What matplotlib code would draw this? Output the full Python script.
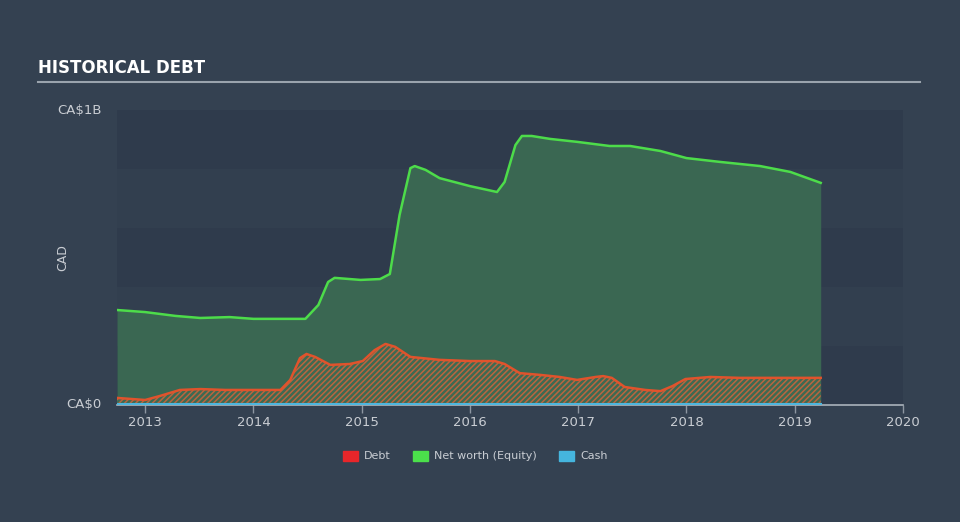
import matplotlib
matplotlib.use("Agg")
import matplotlib.pyplot as plt
from matplotlib.patches import Patch
from matplotlib.lines import Line2D

# === DATA ===
eq_years = [2012.74, 2013.0, 2013.28, 2013.51, 2013.78, 2014.0, 2014.25, 2014.48,
            2014.6, 2014.69, 2014.75, 2014.99, 2015.17, 2015.26, 2015.35, 2015.45,
            2015.49, 2015.59, 2015.72, 2016.0, 2016.25, 2016.32, 2016.42, 2016.48,
            2016.57, 2016.74, 2016.99, 2017.29, 2017.48, 2017.76, 2018.0, 2018.31,
            2018.68, 2018.96, 2019.24]
equity = [0.322, 0.315, 0.302, 0.295, 0.298, 0.292, 0.292, 0.292,
          0.339, 0.417, 0.431, 0.424, 0.427, 0.444, 0.644, 0.803,
          0.810, 0.797, 0.769, 0.742, 0.722, 0.756, 0.881, 0.912,
          0.912, 0.902, 0.892, 0.878, 0.878, 0.861, 0.837, 0.824,
          0.810, 0.790, 0.753]

debt_years = [2012.74, 2013.0, 2013.14, 2013.32, 2013.51, 2013.74, 2014.0, 2014.25,
              2014.34, 2014.43, 2014.49, 2014.57, 2014.71, 2014.89, 2015.01, 2015.12,
              2015.22, 2015.31, 2015.45, 2015.72, 2016.0, 2016.23, 2016.32, 2016.46,
              2016.65, 2016.83, 2016.99, 2017.16, 2017.23, 2017.31, 2017.43, 2017.62,
              2017.76, 2017.87, 2017.99, 2018.22, 2018.49, 2018.86, 2019.24]
debt = [0.024, 0.017, 0.031, 0.051, 0.054, 0.051, 0.051, 0.051,
        0.085, 0.159, 0.173, 0.163, 0.136, 0.139, 0.149, 0.186,
        0.207, 0.197, 0.163, 0.153, 0.149, 0.149, 0.139, 0.108,
        0.102, 0.095, 0.085, 0.095, 0.098, 0.092, 0.061, 0.051,
        0.047, 0.064, 0.088, 0.095, 0.092, 0.092, 0.092]

cash_years = [2012.74, 2019.24]
cash = [0.003, 0.003]

x_ticks = [2013, 2014, 2015, 2016, 2017, 2018, 2019, 2020]
y_ticks = [0, 1.0]
y_tick_labels = ["CA$0", "CA$1B"]

# === STYLE ===
BG = "#344151"
BAND_DARK = "#2f3b4c"
BAND_LIGHT = "#323f4f"
TXT = "#c9cdd3"
EQ_LINE = "#4ddc4a"
EQ_FILL = "#3a6752"
DEBT_LINE = "#e0532c"
CASH_LINE = "#4fb6df"

plt.rcParams["hatch.linewidth"] = 1.1

fig = plt.figure(figsize=(9.6, 5.22), dpi=100, facecolor=BG)
ax = fig.add_axes([117 / 960, 1 - 405 / 522, (903 - 117) / 960, (405 - 110) / 522])
ax.set_facecolor(BG)

# alternating horizontal bands
for i in range(5):
    ax.axhspan(i * 0.2, (i + 1) * 0.2, color=BAND_DARK if i % 2 == 0 else BAND_LIGHT,
               lw=0, zorder=0)

ax.fill_between(eq_years, equity, 0, color=EQ_FILL, lw=0, zorder=1)
ax.plot(eq_years, equity, color=EQ_LINE, lw=1.8, zorder=3)

ax.fill_between(debt_years, debt, 0, facecolor="#3d6a52", edgecolor="#b9653f",
                hatch="//////", lw=0, zorder=2)
ax.plot(debt_years, debt, color=DEBT_LINE, lw=1.8, zorder=3)

ax.plot(cash_years, cash, color=CASH_LINE, lw=1.5, zorder=4)

ax.set_xlim(2012.74, 2020.0)
ax.set_ylim(0, 1.0)

ax.set_xticks(x_ticks)
ax.set_xticklabels([str(t) for t in x_ticks])
ax.set_yticks(y_ticks)
ax.set_yticklabels(y_tick_labels)
ax.tick_params(axis="x", colors="#8d96a1", labelcolor=TXT, labelsize=9.5,
               length=6, width=1, direction="out", pad=2)
ax.tick_params(axis="y", length=0, labelcolor=TXT, labelsize=9.5, pad=11)
for lab in ax.get_yticklabels():
    lab.set_verticalalignment("center")

for s in ["top", "right", "left"]:
    ax.spines[s].set_visible(False)
ax.spines["bottom"].set_color("#aab2bb")
ax.spines["bottom"].set_linewidth(1.2)

ax.set_ylabel("CAD", color=TXT, fontsize=9)
ax.yaxis.set_label_coords((69 - 117) / 786, 0.5)

# title and underline
fig.text(38 / 960, 1 - 68 / 522, "HISTORICAL DEBT", color="white", fontsize=12,
         fontweight="bold", family=["Liberation Sans Narrow", "DejaVu Sans"],
         va="center", ha="left")
fig.add_artist(Line2D([38 / 960, 920 / 960], [1 - 82 / 522, 1 - 82 / 522],
                      color="#9aa3ad", lw=1.5))

handles = [Patch(color="#e8262a", label="Debt"),
           Patch(color="#4be04b", label="Net worth (Equity)"),
           Patch(color="#45b5de", label="Cash")]
fig.legend(handles=handles, loc="center", bbox_to_anchor=(475 / 960, 1 - 456 / 522),
           ncol=3, frameon=False, fontsize=8, labelcolor=TXT, handlelength=1.4,
           handleheight=1.0, columnspacing=2.0, handletextpad=0.5)

fig.savefig("out.png", dpi=100, facecolor=BG)
